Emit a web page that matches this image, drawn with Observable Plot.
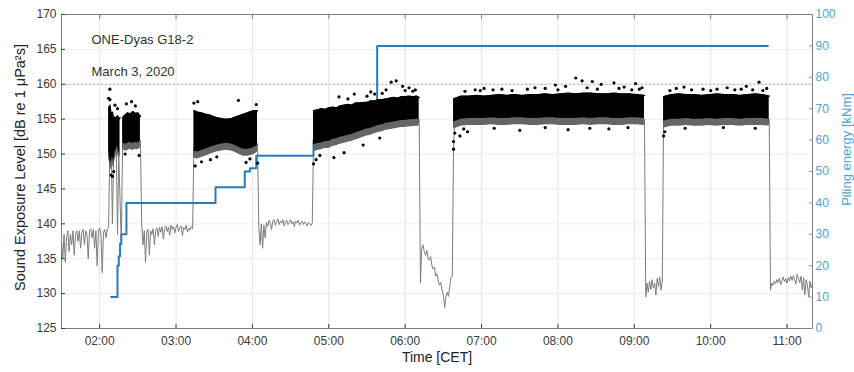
<!DOCTYPE html>
<html><head><meta charset="utf-8">
<script src="https://cdn.jsdelivr.net/npm/d3@7"></script>
<script src="https://cdn.jsdelivr.net/npm/@observablehq/plot@0.6"></script>
<style>
html,body{margin:0;padding:0;background:#fff;}
#chart svg{display:block;}
</style></head>
<body><div id="chart"></div>
<script>
// ---------- axis ticks ----------
const hourTicks = ["02:00","03:00","04:00","05:00","06:00","07:00","08:00","09:00","10:00","11:00"];
const dbTicks = [125,130,135,140,145,150,155,160,165,170];
const energyTicks = [0,10,20,30,40,50,60,70,80,90,100];
const thresholdDb = [160];
const xDomain = ["01:30","11:20"];

// ---------- gray line (SEL, 1-minute samples in quiet periods) ----------
const quietStarts = ["01:30","02:33","04:05","06:12","09:09","10:47"];
const quiet1Db = [137.5,135,138.5,134.5,138,139,136,138.5,137,139,135.5,138.5,139,137.5,139,136.5,138.8,139.2,137,139,138.5,135,139,139.3,138,139.2,136.5,139,134,139,139.4,138.5,133,138.8,139.2,138,139.3,139.5];
const quiet2Db = [140,137,139,134.5,138.8,139.2,135.5,139,138.5,139.3,137,139,139.4,138.2,139.5,138.8,139.6,137.8,139.3,139.7,138.9,139.5,138.4,139.8,139.2,139.6,138.7,139.5,139.9,138.9,139.4,139.7,138.3,139.5,139.2,139.8,138.8,139.4,139.1,139.6,139.3];
const quiet3Db = [139.5,137,140,136.5,139.8,138,140.2,139.6,140.5,140.1,139.2,140.4,140.6,139.8,140.3,140.7,139.9,140.4,140.1,140.6,139.7,140.3,140.5,139.9,140.2,140.6,140,140.3,139.6,140.4,140.1,140.5,139.8,140.2,140.4,139.9,140.3,140.1,139.7,140.2,140,139.8,140.1];
const quiet4Db = [131.5,136.5,137,136,135.5,136.2,135,134.8,135.3,134,133.5,133.8,132.5,132.8,131.8,131.2,131.6,130.5,129.8,128,129.5,130.2,129.6,131,132.3,132.5];
const quiet5Db = [129.5,131.5,130.2,131.8,130.6,132,130.8,131.5,129.8,132.2,131,132.4,130.5,131.8];
const quiet6Db = [130.5,131.5,131.2,131.8,131.4,132,131.6,132.2,131.3,131.9,132.4,131.7,132.1,131.5,132.3,131.8,132.5,131.9,132.6,132,131.4,132.8,132.2,131.6,132.5,130.5,132.3,129.8,132,131.2,129.5,131.8,130.8,131.5];

// gray line during piling (mostly hidden under the strike dots)
const pileGrayTime = ["02:08","02:09","02:10","02:11","02:13","02:14","02:15","02:17","02:18","02:22","02:26","02:30","02:32",
  "03:14","03:24","03:34","03:44","03:54","04:04",
  "04:48","05:00","05:12","05:24","05:36","05:48","06:00","06:11",
  "06:38","06:39","06:50","07:10","07:30","07:50","08:10","08:30","08:50","09:08",
  "09:23","09:35","09:55","10:15","10:35","10:46"];
const pileGrayDb = [151,152,140,150,151,138.5,150,137,151.5,152,152.5,152,152,
  151,151.5,152,151.5,151,151.5,
  151.5,152,152.5,153.5,154,154.5,155,155,
  151,155,155,155,155,155,155,155,155,155,
  155,155,155,155,155,155];

// ---------- per-strike SEL clouds (envelopes) ----------
const pile1aTime = ["02:07","02:08","02:09","02:10","02:11","02:12","02:13","02:14","02:15","02:16"];
const pile1aHi = [156.5,157,155.5,156,155,155.3,155,155.5,155,155.2];
const pile1aLo = [150,148.5,148,149,148.2,149.5,150,150.5,149.5,150];
const pile1bTime = ["02:18","02:20","02:22","02:24","02:26","02:28","02:30","02:32"];
const pile1bHi = [155.2,155.6,155.9,155.7,156.1,155.8,155.9,155.4];
const pile1bLo = [151,150.7,150.8,151,150.8,151,150.9,151.2];
const pile2Time = ["03:14","03:17","03:20","03:23","03:26","03:29","03:32","03:35","03:38","03:41","03:44","03:47","03:50","03:53","03:56","03:59","04:02","04:04"];
const pile2Hi = [156.2,156,155.9,155.7,155.6,155.4,155.2,155.1,155,155,155.1,155.3,155.5,155.7,155.9,156.1,156.2,156.2];
const pile2Lo = [149.7,149.6,149.8,150,150.2,150.4,150.6,150.7,150.8,150.8,150.7,150.5,150.2,150,150,150.1,150.3,150.6];
const pile3Time = ["04:48","04:51","04:54","04:57","05:00","05:03","05:06","05:09","05:12","05:15","05:18","05:21","05:24","05:27","05:30","05:33","05:36","05:39","05:42","05:45","05:48","05:51","05:54","05:57","06:00","06:03","06:06","06:09","06:11"];
const pile3Hi = [156.2,156.3,156.5,156.4,156.6,156.7,156.6,156.9,157,157.1,157,157.3,157.3,157.4,157.4,157.6,157.6,157.8,157.8,157.9,158,158.1,158,158.2,158.2,158.3,158.2,158.3,158.1];
const pile3Lo = [150.6,150.8,150.9,151.1,151.1,151.4,151.5,151.7,151.8,152,152.1,152.3,152.5,152.7,152.9,153,153.2,153.4,153.5,153.7,153.8,153.9,154,154.1,154.1,154.2,154.2,154.3,154.3];
const pile4Time = ["06:38","06:44","06:50","06:56","07:02","07:08","07:14","07:20","07:26","07:32","07:38","07:44","07:50","07:56","08:02","08:08","08:14","08:20","08:26","08:32","08:38","08:44","08:50","08:56","09:02","09:08"];
const pile4Hi = [157.9,158.3,158.3,158.4,158.3,158.4,158.5,158.4,158.5,158.4,158.5,158.5,158.6,158.5,158.6,158.7,158.6,158.7,158.7,158.6,158.6,158.7,158.6,158.6,158.5,158.4];
const pile4Lo = [153.9,154.3,154.4,154.4,154.4,154.5,154.4,154.4,154.5,154.5,154.4,154.4,154.5,154.5,154.4,154.4,154.4,154.5,154.4,154.5,154.5,154.4,154.4,154.5,154.5,154.4];
const pile5Time = ["09:23","09:29","09:35","09:41","09:47","09:53","09:59","10:05","10:11","10:17","10:23","10:29","10:35","10:41","10:46"];
const pile5Hi = [158.2,158.5,158.6,158.5,158.5,158.4,158.5,158.6,158.5,158.5,158.4,158.5,158.6,158.5,158.3];
const pile5Lo = [154,154.3,154.3,154.4,154.3,154.3,154.4,154.3,154.4,154.4,154.3,154.4,154.4,154.4,154.3];

// isolated strike dots outside the dense clouds
const outlierTime = ["02:07","02:08","02:08","02:09","02:10","02:11","02:12","02:14","02:21","02:25","02:28","02:20","02:31",
  "03:14","03:17","03:15","03:20","03:49","04:03","03:55","03:32","03:27","03:58","04:04",
  "04:48","04:50","04:53","05:04","05:12","05:08","05:20","05:27","05:33","05:45","05:49","05:53","05:58","06:03","06:08","05:40",
  "05:15","05:30","05:36","05:42","06:00","06:06",
  "06:38","06:38","06:39","06:43","06:49","06:55","07:02","07:16","07:42","07:58","08:06","08:14","08:19","08:27","08:34","08:44","08:52","09:01","09:06","07:30","08:08","08:40",
  "06:47","06:59","07:09","07:24","07:36","07:50","08:00","08:23","08:31","08:48","08:58","09:04",
  "06:46","07:10","07:50","08:25","08:55",
  "09:23","09:24","09:33","09:39","09:54","10:13","10:28","10:38","10:24","10:44",
  "09:28","09:45","10:00","10:05","10:19","10:33","10:41","09:40","10:10","10:35"];
const outlierDb = [158,159.3,157.8,147,146.8,147.5,157,156.5,157.2,157.5,156.9,150,149.8,
  157.3,157.5,148.3,148.9,157.7,157.1,148.8,149.6,149.2,149.3,148.7,
  148.6,149.2,149.8,149.5,150.2,158.2,158.6,151.3,158.9,159.2,160.3,160.5,159.7,159.5,159.2,152.3,
  157.9,158.3,158.6,158.7,159.1,159,
  150.7,151.8,153,152.6,153.2,159.2,159.4,159.3,159.5,159.9,159.7,160.9,160.5,160.4,160,160.2,159.6,160.1,159.5,153.4,153.5,153.6,
  159,159.1,159.2,159.1,159.3,159.4,159.2,159.5,159.3,159.4,159.2,159.3,
  153.6,153.7,153.8,153.7,153.8,
  152.6,153.2,159.4,159.6,159.3,159.5,159.7,160.3,159.3,159.4,
  159.1,159.2,159.1,159.3,159.2,159.2,159.1,153.7,153.8,153.7];

// ---------- piling energy (right axis) ----------
const energyTime = ["02:09","02:14","02:15","02:16","02:17","02:21","03:31","03:54","03:58","04:03","04:48","04:51","05:38","10:45"];
const energyKnm = [10,20,23,27,30,40,45,50,51,55,60,65,90,90];

// ---------- build tables ----------
const toDate = s => { const [h, m] = s.split(":").map(Number); return new Date(Date.UTC(2020, 2, 3, h, m)); };
const addMin = (d, k) => new Date(d.getTime() + k * 60000);
const energyToDb = e => 125 + e * 0.45;   // right axis 0..100 spans left axis 125..170
const dbToEnergy = v => (v - 125) / 0.45;

const quietDb = [quiet1Db, quiet2Db, quiet3Db, quiet4Db, quiet5Db, quiet6Db];
const gray = [];
quietStarts.forEach((s, i) => quietDb[i].forEach((v, k) => gray.push({t: addMin(toDate(s), k), db: v})));
pileGrayTime.forEach((s, i) => gray.push({t: toDate(s), db: pileGrayDb[i]}));
gray.sort((a, b) => a.t - b.t);

const clouds = [];
[[pile1aTime, pile1aHi, pile1aLo, "1a"], [pile1bTime, pile1bHi, pile1bLo, "1b"], [pile2Time, pile2Hi, pile2Lo, "2"],
 [pile3Time, pile3Hi, pile3Lo, "3"], [pile4Time, pile4Hi, pile4Lo, "4"], [pile5Time, pile5Hi, pile5Lo, "5"]]
  .forEach(([T, H, L, id]) => T.forEach((s, i) => clouds.push({t: toDate(s), hi: H[i], lo: L[i], id})));

const outliers = outlierTime.map((s, i) => ({t: toDate(s), db: outlierDb[i]}));
const energy = energyTime.map((s, i) => ({t: toDate(s), e: energyKnm[i]}));
const hourDates = hourTicks.map(toDate);

const blue = "#2b7bba";
const lightBlue = "#4aa3d8";

const chart = Plot.plot({
  width: 854, height: 372,
  marginLeft: 61, marginRight: 42, marginTop: 14, marginBottom: 44,
  style: {fontFamily: "'Liberation Sans', Arial, sans-serif", fontSize: "12px", background: "#fff", overflow: "visible"},
  x: {type: "utc", domain: xDomain.map(toDate)},
  y: {domain: [125, 170]},
  marks: [
    Plot.gridX(hourDates, {stroke: "#e4e4e4", strokeOpacity: 1}),
    Plot.gridY(dbTicks, {stroke: "#ececec", strokeOpacity: 1}),
    Plot.ruleY(thresholdDb, {stroke: "#e39a9a", strokeDasharray: "2,2", strokeWidth: 1}),
    Plot.line(gray, {x: "t", y: "db", stroke: "#7d7d7d", strokeWidth: 1}),
    Plot.line(energy, {x: "t", y: d => energyToDb(d.e), stroke: blue, strokeWidth: 2, curve: "step-after"}),
    Plot.areaY(clouds, {x: "t", y1: "lo", y2: "hi", z: "id", fill: "#000", curve: "linear"}),
    Plot.areaY(clouds, {x: "t", y1: d => d.lo - 0.3, y2: d => d.lo + 0.7, z: "id", fill: "#666"}),
    Plot.line(clouds, {x: "t", y: "hi", z: "id", stroke: "#000", strokeWidth: 1.5}),
    Plot.dot(outliers, {x: "t", y: "db", r: 1.6, fill: "#000"}),
    Plot.frame({stroke: "#808080"}),
    Plot.axisX({anchor: "bottom", ticks: hourDates, tickFormat: d3.utcFormat("%H:%M"), tickSize: -4, tickPadding: 12, label: null, color: "#3a3a3a"}),
    Plot.axisX({anchor: "top", ticks: hourDates, tickFormat: () => "", tickSize: -4, label: null, color: "#808080"}),
    Plot.axisY({anchor: "left", ticks: dbTicks, tickSize: -4, tickPadding: 9, label: null, color: "#3a3a3a"}),
    Plot.axisY({anchor: "right", ticks: energyTicks.map(energyToDb), tickFormat: d => String(Math.round(dbToEnergy(d))), tickSize: -4, tickPadding: 7, label: null, color: lightBlue}),
    Plot.text(["ONE-Dyas G18-2"], {frameAnchor: "top-left", dx: 30, dy: 25, textAnchor: "start", lineAnchor: "middle", fontSize: 13, fill: "#333"}),
    Plot.text(["March 3, 2020"], {frameAnchor: "top-left", dx: 30, dy: 57, textAnchor: "start", lineAnchor: "middle", fontSize: 13, fill: "#333"}),
    Plot.text(["Sound Exposure Level [dB re 1 \u03bcPa\u00b2s]"], {frameAnchor: "left", dx: -41, dy: -4, rotate: -90, textAnchor: "middle", lineAnchor: "middle", fontSize: 14.5, fill: "#222"}),
    Plot.text(["Time [CET]"], {frameAnchor: "bottom", dy: 29, textAnchor: "middle", lineAnchor: "middle", fontSize: 14, fill: "#222"}),
    Plot.text(["Piling energy [kNm]"], {frameAnchor: "right", dx: 34, dy: -22, rotate: -90, textAnchor: "middle", lineAnchor: "middle", fontSize: 13, fill: lightBlue})
  ]
});
document.getElementById("chart").appendChild(chart);
</script>
</body></html>
